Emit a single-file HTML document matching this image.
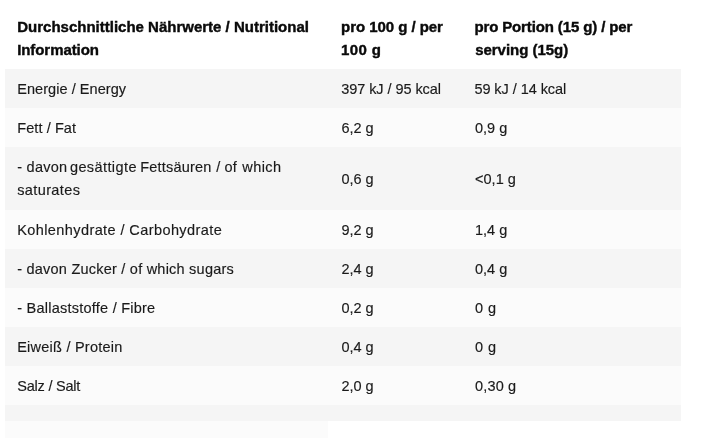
<!DOCTYPE html>
<html lang="de">
<head>
<meta charset="utf-8">
<title>Nährwerte / Nutritional Information</title>
<style>
html,body{margin:0;padding:0;background:#fff;}
body{width:704px;height:438px;overflow:hidden;position:relative;font-family:"Liberation Sans",sans-serif;font-size:14.5px;line-height:23px;color:#1a1a1a;}
table{position:absolute;left:5px;top:0;width:676px;border-collapse:collapse;border-spacing:0;table-layout:fixed;}
td,th{padding:0 0 0 13px;text-align:left;vertical-align:middle;font-weight:400;white-space:nowrap;overflow:visible;}
th{font-weight:700;font-size:15px;color:#0a0a0a;vertical-align:top;padding-top:14.6px;-webkit-text-stroke:0.4px #0a0a0a;}
td span{top:0.8px;-webkit-text-stroke:0.15px #1a1a1a;}
tr.g td{background:#f5f5f5;}
tr.l td{background:#fbfbfb;}
tr.e td{background:#f5f5f5;height:16px;padding:0;}
tr.f td{height:17px;padding:0;}
tr.f td.c div{width:323px;height:17px;background:#fbfbfb;}
td span,th span{display:block;white-space:pre;position:relative;}
td span i{font-style:normal;position:relative;display:inline-block;}
</style>
</head>
<body>
<table>
<colgroup><col style="width:324px"><col style="width:133px"><col style="width:219px"></colgroup>
<tr class="head" style="height:69px">
<th><span style="letter-spacing:0px;left:-0.80px">Durchschnittliche Nährwerte / Nutritional</span><span style="letter-spacing:-0.080px;left:-0.80px">Information</span></th>
<th><span style="letter-spacing:-0.046px;left:-0.96px">pro 100 g / per</span><span style="letter-spacing:0.400px;left:-0.96px">100 g</span></th>
<th><span style="letter-spacing:-0.125px;left:-0.64px">pro Portion (15 g) / per</span><span style="letter-spacing:-0.027px;left:0.16px">serving (15g)</span></th>
</tr>
<tr class="g" style="height:39px">
<td><span style="letter-spacing:0.053px;left:-0.80px">Energie / Energy</span></td>
<td><span style="letter-spacing:-0.064px;left:-0.80px">397 kJ / 95 kcal</span></td>
<td><span style="letter-spacing:-0.057px;left:-0.64px">59 kJ / 14 kcal</span></td>
</tr>
<tr class="l" style="height:39px">
<td><span style="letter-spacing:0.089px;left:-0.80px">Fett / Fat</span></td>
<td><span style="letter-spacing:-0.040px;left:-0.64px">6,2 g</span></td>
<td><span style="letter-spacing:0px">0,9 g</span></td>
</tr>
<tr class="g" style="height:63px">
<td><span><i style="letter-spacing:0.252px;left:-0.80px">- davon</i> <i style="letter-spacing:0.403px;left:-2.24px">gesättigte</i> <i style="letter-spacing:0.208px;left:-2.88px">Fettsäuren</i> <i style="letter-spacing:0.066px;left:-2.24px">/ of</i> <i style="letter-spacing:0.439px;left:-0.80px">which</i></span><span style="letter-spacing:0.380px;left:-0.80px">saturates</span></td>
<td><span style="letter-spacing:-0.040px;left:-0.64px">0,6 g</span></td>
<td><span style="letter-spacing:0.032px">&lt;0,1 g</span></td>
</tr>
<tr class="l" style="height:39px">
<td><span style="letter-spacing:0.409px;left:-0.80px">Kohlenhydrate / Carbohydrate</span></td>
<td><span style="letter-spacing:-0.040px;left:-0.64px">9,2 g</span></td>
<td><span style="letter-spacing:0px">1,4 g</span></td>
</tr>
<tr class="g" style="height:39px">
<td><span style="letter-spacing:0.227px;left:-0.80px">- davon Zucker / of which sugars</span></td>
<td><span style="letter-spacing:-0.040px;left:-0.64px">2,4 g</span></td>
<td><span style="letter-spacing:0px">0,4 g</span></td>
</tr>
<tr class="l" style="height:39px">
<td><span style="letter-spacing:0.240px;left:-0.80px">- Ballaststoffe / Fibre</span></td>
<td><span style="letter-spacing:-0.040px;left:-0.64px">0,2 g</span></td>
<td><span style="letter-spacing:0.400px">0 g</span></td>
</tr>
<tr class="g" style="height:39px">
<td><span style="letter-spacing:0.235px;left:-0.80px">Eiweiß / Protein</span></td>
<td><span style="letter-spacing:-0.040px;left:-0.64px">0,4 g</span></td>
<td><span style="letter-spacing:0.400px">0 g</span></td>
</tr>
<tr class="l" style="height:39px">
<td><span style="letter-spacing:-0.208px;left:-0.80px">Salz / Salt</span></td>
<td><span style="letter-spacing:-0.040px;left:-0.64px">2,0 g</span></td>
<td><span style="letter-spacing:0.160px">0,30 g</span></td>
</tr>
<tr class="e"><td></td><td></td><td></td></tr>
<tr class="f"><td class="c"><div></div></td><td></td><td></td></tr>
</table>
</body>
</html>
